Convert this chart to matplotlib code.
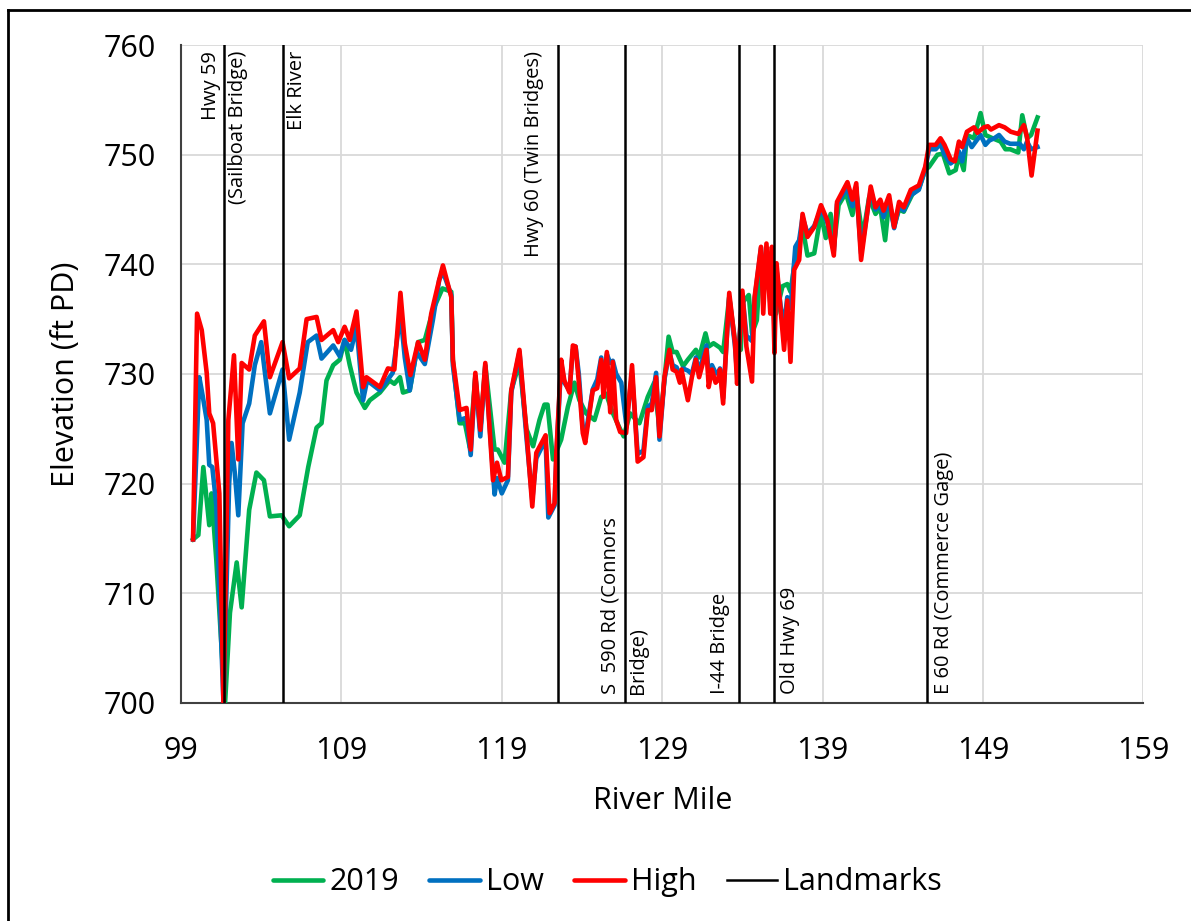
import matplotlib
matplotlib.use("Agg")
import matplotlib.pyplot as plt
from matplotlib.lines import Line2D

plt.rcParams["font.family"] = ["Open Sans", "DejaVu Sans"]

# 2019 survey (green)
mile_2019 = [99.75, 100.08, 100.39, 100.76, 100.9, 101.2, 101.74, 102.05, 102.47, 102.78,
             103.25, 103.7, 104.17, 104.54, 105.27, 105.74, 106.4, 106.93, 107.45, 107.76,
             108.07, 108.49, 108.9, 109.2, 109.52, 109.94, 110.46, 110.77, 111.4, 112.0,
             112.3, 112.65, 112.84, 113.26, 113.78, 114.2, 114.7, 115.3, 115.85, 115.95,
             116.37, 116.7, 117.0, 117.35, 117.66, 117.97, 118.55, 118.75, 119.17, 119.59,
             120.1, 120.53, 120.95, 121.35, 121.66, 121.85, 122.19, 122.7, 123.12, 123.53,
             123.84, 124.26, 124.78, 125.2, 125.5, 125.9, 126.3, 126.6, 127.0, 127.58,
             128.1, 128.5, 128.83, 129.14, 129.4, 129.65, 129.9, 130.3, 130.6, 131.1,
             131.3, 131.7, 131.9, 132.2, 132.6, 132.8, 133.18, 133.54, 133.9, 134.0,
             134.4, 134.6, 134.9, 135.16, 135.5, 135.84, 136.1, 136.5, 136.8, 137.0,
             137.3, 137.75, 138.06, 138.48, 138.9, 139.2, 139.5, 139.7, 140.0, 140.45,
             140.86, 141.1, 141.5, 141.9, 142.3, 142.6, 142.9, 143.15, 143.46, 143.77,
             144.06, 144.6, 145.0, 145.4, 145.64, 146.16, 146.5, 146.9, 147.3, 147.5,
             147.8, 148.0, 148.44, 148.85, 149.15, 149.6, 150.1, 150.4, 150.7, 151.2,
             151.45, 151.75, 152.0, 152.4]
elev_2019 = [714.9, 715.3, 721.5, 716.2, 719.1, 713.0, 699.8, 708.2, 712.8, 708.7,
             717.6, 721.0, 720.3, 717.0, 717.1, 716.1, 717.1, 721.5, 725.1, 725.5,
             729.4, 730.8, 731.3, 733.1, 730.8, 728.3, 726.9, 727.6, 728.3, 729.4,
             729.1, 729.7, 728.3, 728.5, 732.9, 733.1, 735.8, 737.8, 737.5, 731.2,
             725.5, 725.5, 723.3, 729.8, 724.9, 730.8, 723.1, 723.1, 721.9, 728.5,
             731.0, 725.0, 723.4, 725.8, 727.2, 727.2, 722.2, 724.0, 727.0, 729.2,
             727.6, 726.4, 725.8, 727.9, 728.2, 726.5, 725.2, 724.3, 726.4, 725.5,
             727.9, 729.2, 725.0, 729.5, 733.4, 732.0, 732.0, 730.7, 731.3, 732.2,
             731.5, 733.7, 732.5, 732.8, 732.4, 732.0, 737.0, 733.0, 732.2, 736.5,
             737.2, 733.7, 734.9, 741.0, 738.0, 740.5, 735.5, 738.0, 738.2, 737.5,
             740.5, 743.4, 740.8, 741.0, 744.6, 742.4, 744.6, 741.6, 745.4, 746.5,
             744.5, 746.5, 742.5, 746.1, 744.6, 745.2, 742.2, 745.8, 743.5, 745.0,
             744.8, 746.4, 746.9, 748.6, 748.9, 750.0, 750.1, 748.3, 748.6, 750.0,
             748.6, 751.8, 751.5, 753.8, 751.8, 751.5, 751.2, 750.5, 750.5, 750.2,
             753.6, 751.5, 751.8, 753.4]

# Low scenario (blue)
mile_low = [99.75, 100.14, 100.35, 100.6, 100.76, 100.95, 101.2, 101.65, 102.0, 102.15,
            102.35, 102.57, 102.84, 103.25, 103.6, 104.0, 104.54, 105.33, 105.74, 106.4,
            106.9, 107.45, 107.76, 108.49, 108.9, 109.2, 109.6, 109.94, 110.35, 110.6,
            111.4, 112.2, 112.68, 112.95, 113.26, 113.68, 114.2, 114.7, 115.1, 115.33,
            115.85, 115.95, 116.37, 116.8, 117.06, 117.35, 117.66, 117.97, 118.55, 118.7,
            119.0, 119.38, 119.59, 120.1, 120.53, 120.9, 121.15, 121.73, 121.9, 122.29,
            122.4, 122.7, 122.9, 123.22, 123.43, 123.6, 123.8, 124.05, 124.2, 124.67,
            124.95, 125.2, 125.34, 125.55, 125.76, 125.92, 126.13, 126.45, 126.75, 127.12,
            127.47, 127.83, 128.1, 128.35, 128.62, 128.83, 129.14, 129.45, 129.65, 129.9,
            130.1, 130.3, 130.6, 130.85, 131.1, 131.3, 131.76, 131.9, 132.1, 132.33,
            132.5, 132.6, 132.8, 133.18, 133.54, 133.67, 134.0, 134.25, 134.6, 134.76,
            135.16, 135.3, 135.5, 135.74, 135.84, 136.0, 136.13, 136.4, 136.6, 136.8,
            137.0, 137.3, 137.54, 137.75, 138.06, 138.48, 138.9, 139.3, 139.7, 139.9,
            140.55, 140.86, 141.1, 141.4, 142.0, 142.3, 142.6, 142.8, 143.15, 143.46,
            143.77, 144.06, 144.5, 145.0, 145.4, 145.64, 146.05, 146.35, 146.6, 146.98,
            147.25, 147.5, 147.7, 148.0, 148.3, 148.85, 149.15, 149.4, 149.7, 150.0,
            150.35, 150.7, 151.1, 151.3, 151.55, 151.75, 152.0, 152.4]
elev_low = [714.9, 729.7, 728.0, 725.8, 721.7, 721.5, 718.0, 699.8, 720.0, 723.7,
            721.0, 717.1, 725.5, 727.3, 730.8, 732.9, 726.4, 730.4, 724.0, 728.3,
            732.9, 733.5, 731.4, 732.6, 731.6, 733.1, 732.2, 734.3, 727.6, 729.4,
            728.5, 730.1, 735.5, 731.5, 728.5, 732.0, 730.9, 734.9, 738.6, 739.3,
            737.2, 730.8, 725.8, 726.0, 722.6, 729.8, 724.3, 730.7, 719.0, 720.5,
            719.1, 720.3, 728.3, 732.0, 724.3, 718.5, 722.3, 724.0, 716.9, 718.0,
            722.5, 731.0, 729.2, 728.5, 732.2, 732.5, 730.0, 725.0, 724.2, 728.6,
            729.5, 731.5, 729.0, 731.8, 731.0, 731.2, 730.0, 729.2, 725.5, 730.0,
            722.7, 723.0, 727.0, 727.3, 730.1, 724.0, 729.5, 732.0, 730.8, 730.6,
            729.8, 730.5, 730.3, 730.0, 731.5, 730.2, 732.6, 729.8, 730.8, 730.1,
            730.0, 730.5, 727.8, 737.0, 732.5, 730.0, 737.3, 733.5, 733.0, 736.8,
            741.5, 737.0, 741.5, 736.5, 741.0, 734.0, 739.5, 736.0, 734.5, 737.0,
            736.0, 741.6, 742.2, 744.3, 742.8, 743.5, 745.0, 743.8, 741.2, 745.5,
            747.0, 745.3, 747.0, 741.0, 746.8, 745.0, 745.4, 744.3, 745.8, 743.3,
            745.3, 744.9, 746.3, 746.8, 748.7, 750.5, 750.5, 751.0, 750.0, 749.2,
            749.5, 750.3, 749.4, 751.5, 750.7, 751.8, 750.9, 751.3, 751.5, 751.8,
            751.2, 751.0, 751.0, 751.0, 750.5, 751.2, 750.5, 750.7]

# High scenario (red)
mile_high = [99.75, 100.0, 100.29, 100.6, 100.76, 101.0, 101.39, 101.65, 101.95, 102.3,
             102.57, 102.78, 103.25, 103.6, 104.17, 104.54, 105.33, 105.74, 106.4, 106.83,
             107.45, 107.76, 108.49, 108.8, 109.2, 109.52, 109.94, 110.35, 110.56, 111.4,
             111.9, 112.3, 112.68, 112.95, 113.3, 113.78, 114.2, 114.6, 115.1, 115.33,
             115.85, 115.95, 116.37, 116.8, 117.06, 117.35, 117.66, 117.97, 118.45, 118.7,
             118.97, 119.38, 119.59, 120.1, 120.53, 120.9, 121.15, 121.73, 121.98, 122.29,
             122.4, 122.7, 122.9, 123.22, 123.43, 123.6, 123.8, 124.05, 124.2, 124.67,
             124.95, 125.2, 125.34, 125.55, 125.76, 125.92, 126.13, 126.38, 126.75, 127.12,
             127.47, 127.83, 128.1, 128.35, 128.62, 128.83, 129.14, 129.45, 129.65, 129.9,
             130.1, 130.2, 130.6, 130.85, 131.1, 131.3, 131.76, 131.9, 132.1, 132.33,
             132.5, 132.6, 132.8, 133.18, 133.54, 133.67, 134.0, 134.25, 134.6, 134.76,
             135.16, 135.3, 135.5, 135.74, 135.84, 136.0, 136.13, 136.4, 136.6, 136.8,
             137.0, 137.23, 137.54, 137.75, 138.06, 138.48, 138.9, 139.3, 139.7, 139.9,
             140.55, 140.86, 141.1, 141.4, 142.0, 142.3, 142.6, 142.8, 143.15, 143.46,
             143.77, 144.06, 144.5, 145.0, 145.4, 145.64, 146.05, 146.35, 146.6, 146.98,
             147.25, 147.5, 147.7, 148.0, 148.44, 148.65, 149.06, 149.3, 149.5, 150.0,
             150.35, 150.73, 151.2, 151.55, 151.75, 152.03, 152.4]
elev_high = [714.9, 735.5, 734.0, 730.1, 726.4, 725.5, 719.1, 699.5, 725.8, 731.7,
             722.2, 731.0, 730.4, 733.5, 734.8, 729.7, 732.9, 729.6, 730.5, 735.0,
             735.2, 733.1, 734.0, 732.9, 734.3, 733.1, 735.7, 728.8, 729.7, 728.8,
             730.5, 730.4, 737.4, 732.8, 729.9, 732.9, 731.3, 735.5, 738.6, 739.9,
             737.0, 731.3, 726.7, 726.9, 723.1, 730.1, 724.9, 731.0, 720.3, 721.9,
             720.3, 720.6, 728.5, 732.2, 724.9, 717.9, 722.8, 724.4, 717.3, 718.2,
             722.8, 731.3, 729.4, 728.3, 732.6, 732.5, 729.3, 724.6, 723.7, 728.5,
             728.7, 731.3, 727.9, 732.0, 726.5, 731.1, 725.8, 724.7, 724.6, 730.8,
             722.0, 722.4, 726.7, 726.7, 729.7, 724.3, 729.7, 732.2, 730.4, 730.2,
             729.2, 730.4, 727.6, 729.7, 731.3, 729.7, 732.2, 728.8, 730.4, 729.2,
             729.5, 730.4, 727.3, 737.4, 732.8, 729.1, 737.6, 732.5, 729.3, 737.0,
             741.6, 735.5, 741.9, 735.5, 741.6, 731.9, 740.1, 735.5, 732.2, 736.7,
             731.1, 739.5, 740.4, 744.6, 742.5, 743.4, 745.4, 744.0, 740.8, 745.7,
             747.5, 745.9, 747.4, 740.4, 747.1, 745.2, 745.9, 744.9, 746.3, 743.4,
             745.7, 745.2, 746.8, 747.2, 748.9, 750.9, 750.9, 751.5, 750.9, 749.6,
             749.4, 751.2, 750.7, 752.1, 752.5, 752.0, 752.5, 752.6, 752.3, 752.7,
             752.5, 752.1, 751.9, 752.7, 751.6, 748.1, 752.2]

# landmark river miles and labels
landmark_miles = [101.7, 105.35, 122.5, 126.7, 133.8, 136.0, 145.5]
landmark_labels = ["Hwy 59\n(Sailboat Bridge)", "Elk River", "Hwy 60 (Twin Bridges)",
                   "S  590 Rd (Connors\nBridge)", "I-44 Bridge", "Old Hwy 69",
                   "E 60 Rd (Commerce Gage)"]

fig = plt.figure(figsize=(11.91, 9.21), dpi=100)
ax = fig.add_axes([0.152, 0.237, 0.808, 0.714])

ax.plot(mile_2019, elev_2019, color="#00B050", lw=3.3, label="2019", zorder=3)
ax.plot(mile_low, elev_low, color="#0070C0", lw=3.3, label="Low", zorder=4)
ax.plot(mile_high, elev_high, color="#FF0000", lw=3.3, label="High", zorder=5)
for m in landmark_miles:
    ax.plot([m, m], [700, 760], color="black", lw=1.8, zorder=6)

# label placement: (x offset pts, at top?, multialignment)
label_style = [(0, True, "right"), (10, True, "left"), (-17, True, "left"),
               (-1, False, "left"), (-14, False, "left"), (11, False, "left"),
               (12, False, "left")]
for m, lab, (dx, top, mal) in zip(landmark_miles, landmark_labels, label_style):
    ax.annotate(lab, xy=(m, 1 if top else 0), xycoords=("data", "axes fraction"),
                xytext=(dx, -4 if top else 6), textcoords="offset points",
                rotation=90, ha="center", va="top" if top else "bottom",
                multialignment=mal, fontsize=14.5, linespacing=1.5, zorder=7)

ax.set_xlim(99, 159)
ax.set_ylim(700, 760)
ax.set_xticks(range(99, 160, 10))
ax.set_yticks(range(700, 761, 10))
ax.grid(True, color="#d9d9d9", lw=1.3, zorder=0)
ax.set_axisbelow(True)
ax.tick_params(length=0, labelsize=22)
ax.tick_params(axis="x", pad=24)
ax.tick_params(axis="y", pad=18)
for s in ["top", "right"]:
    ax.spines[s].set_visible(False)
ax.spines["left"].set_color("#404040")
ax.spines["bottom"].set_color("#404040")
ax.spines["left"].set_linewidth(1.5)
ax.spines["bottom"].set_linewidth(1.5)

fig.text(0.556, 0.130, "River Mile", fontsize=22, ha="center", va="center")
fig.text(0.055, 0.594, "Elevation (ft PD)", fontsize=22, rotation=90,
         ha="center", va="center")

handles = [Line2D([], [], color="#00B050", lw=3.3, solid_capstyle="round"),
           Line2D([], [], color="#0070C0", lw=3.3, solid_capstyle="round"),
           Line2D([], [], color="#FF0000", lw=3.3, solid_capstyle="round"),
           Line2D([], [], color="black", lw=1.8)]
fig.legend(handles, ["2019", "Low", "High", "Landmarks"], loc="center",
           bbox_to_anchor=(0.51, 0.042), ncol=4, frameon=False, fontsize=22,
           handlelength=1.65, handletextpad=0.2, columnspacing=1.0)

# outer frame of the figure box
fig.add_artist(Line2D([0.007, 1.0], [0.989, 0.989], color="black", lw=2, transform=fig.transFigure))
fig.add_artist(Line2D([0.007, 0.007], [0.0, 0.989], color="black", lw=2, transform=fig.transFigure))

fig.savefig("out.png", dpi=100)
